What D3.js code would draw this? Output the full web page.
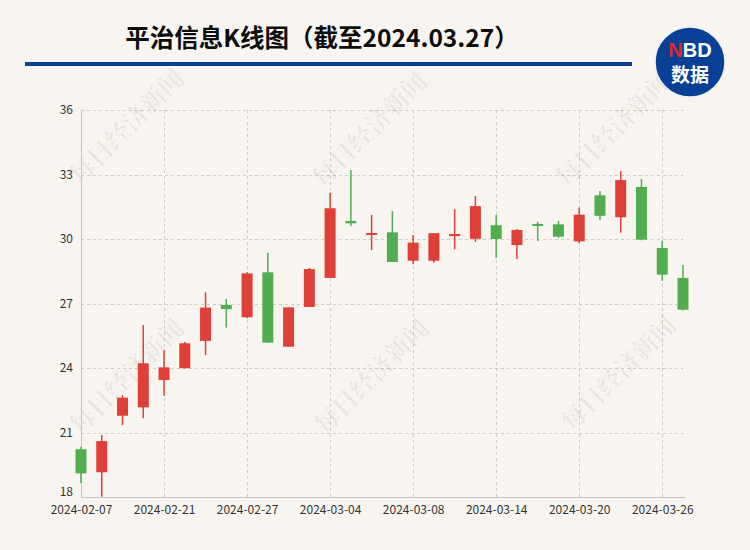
<!DOCTYPE html>
<html>
<head>
<meta charset="utf-8">
<script src="https://cdn.jsdelivr.net/npm/d3@7/dist/d3.min.js"></script>
<style>
  html, body { margin: 0; padding: 0; background: #f8f5f0; }
  svg { display: block; }
</style>
</head>
<body>
<svg id="chart" width="750" height="550"></svg>
<script>
const dates = ["2024-02-07","2024-02-08","2024-02-19","2024-02-20","2024-02-21","2024-02-22","2024-02-23","2024-02-26","2024-02-27","2024-02-28","2024-02-29","2024-03-01","2024-03-04","2024-03-05","2024-03-06","2024-03-07","2024-03-08","2024-03-11","2024-03-12","2024-03-13","2024-03-14","2024-03-15","2024-03-18","2024-03-19","2024-03-20","2024-03-21","2024-03-22","2024-03-25","2024-03-26","2024-03-27"];
const openVals  = [20.22,19.15,21.78,22.17,23.44,23.99,25.26,26.93,26.36,28.45,24.99,26.84,28.19,30.84,30.19,30.31,28.99,28.99,30.15,30.01,30.64,29.72,30.70,30.68,29.89,32.03,31.01,32.42,29.58,28.19];
const closeVals = [19.10,20.60,22.62,24.22,24.03,25.15,26.81,26.74,28.40,25.18,26.82,28.60,31.43,30.73,30.28,28.93,29.83,30.27,30.23,31.53,30.00,30.42,30.62,30.11,31.13,31.08,32.74,29.97,28.34,26.71];
const highVals  = [20.34,20.88,22.74,26.00,24.81,25.21,27.52,27.21,28.45,29.36,26.82,28.65,32.15,33.21,31.12,31.30,30.19,30.27,31.38,32.00,31.12,30.47,30.80,30.85,31.46,32.23,33.16,32.79,29.92,28.79];
const lowVals   = [18.64,18.01,21.35,21.66,22.71,23.99,24.60,25.88,26.31,25.18,24.99,26.84,28.19,30.62,29.49,28.93,28.82,28.90,29.52,29.87,29.13,29.07,29.91,30.06,29.81,30.88,30.29,29.94,28.06,26.67];
const yTicks = [18,21,24,27,30,33,36];
const xTickDates = ["2024-02-07","2024-02-21","2024-02-27","2024-03-04","2024-03-08","2024-03-14","2024-03-20","2024-03-26"];
const titleText = "平治信息K线图（截至2024.03.27）";
const watermarkText = "每日经济新闻";

(function () {
const svg = d3.select("#chart");
const W = 750, H = 550;
const pLeft = 81, pRight = 683, pTop = 110, pBottom = 497;
const RED = "#de3f37", GREEN = "#51ad4f";
const FONT = "'Noto Sans CJK SC', 'Noto Sans', sans-serif";

svg.append("rect").attr("width", W).attr("height", H).attr("fill", "#f8f5f0");

const x = d3.scalePoint().domain(dates).range([pLeft, pRight]);
const y = d3.scaleLinear().domain([18, 36]).range([pBottom, pTop]);

// horizontal grid
svg.append("g").selectAll("line").data(yTicks.filter(t => t !== 18)).join("line")
  .attr("x1", pLeft).attr("x2", pRight)
  .attr("y1", d => Math.round(y(d)) + 0.5).attr("y2", d => Math.round(y(d)) + 0.5)
  .attr("stroke", "#cfcbc6").attr("stroke-dasharray", "3,3").attr("stroke-width", 1);

// vertical grid
svg.append("g").selectAll("line").data(xTickDates.slice(1)).join("line")
  .attr("x1", d => Math.round(x(d)) + 0.5).attr("x2", d => Math.round(x(d)) + 0.5)
  .attr("y1", pTop).attr("y2", pBottom)
  .attr("stroke", "#cfcbc6").attr("stroke-dasharray", "3,3").attr("stroke-width", 1);

// watermarks
const wmCenters = [[125,125],[368,128],[612,128],[125,375],[370,375],[617,372]];
svg.append("g").selectAll("text").data(wmCenters).join("text")
  .attr("transform", d => `translate(${d[0]},${d[1]}) rotate(-45)`)
  .attr("text-anchor", "middle").attr("dominant-baseline", "central")
  .attr("font-family", "'Noto Serif CJK SC', " + FONT)
  .attr("font-weight", "bold").attr("font-size", 25)
  .attr("fill", "#000").attr("fill-opacity", 0.06)
  .text(watermarkText);

// axes
const yAxis = d3.axisLeft(y).tickValues(yTicks).tickSize(0).tickPadding(8);
const gy = svg.append("g").attr("transform", `translate(${pLeft},0)`).call(yAxis);
gy.select(".domain").attr("stroke", "#c8c4bf");
gy.selectAll("text").attr("font-family", FONT).attr("font-size", 12).attr("fill", "#333");
gy.selectAll(".tick").filter(d => d === 18).select("text").attr("dy", "-0.15em");

const xAxis = d3.axisBottom(x).tickValues(xTickDates).tickSize(0).tickPadding(8);
const gx = svg.append("g").attr("transform", `translate(0,${pBottom})`).call(xAxis);
gx.select(".domain").attr("stroke", "#c8c4bf").attr("d", `M${pLeft},0.5H${pRight + 2}`);
gx.selectAll("text").attr("font-family", FONT).attr("font-size", 12).attr("fill", "#333");

// candles
const data = dates.map((d, i) => ({ d, o: openVals[i], c: closeVals[i], h: highVals[i], l: lowVals[i] }));
const bw = 11;
const g = svg.append("g");
g.selectAll("line.wick").data(data).join("line").attr("class", "wick")
  .attr("x1", d => x(d.d)).attr("x2", d => x(d.d))
  .attr("y1", d => y(d.h)).attr("y2", d => y(d.l))
  .attr("stroke", d => d.c >= d.o ? RED : GREEN).attr("stroke-width", 1.5);
g.selectAll("rect.body").data(data).join("rect").attr("class", "body")
  .attr("x", d => x(d.d) - bw / 2)
  .attr("width", bw)
  .attr("y", d => y(Math.max(d.o, d.c)))
  .attr("height", d => Math.max(2, Math.abs(y(d.o) - y(d.c))))
  .attr("fill", d => d.c >= d.o ? RED : GREEN);

// title
svg.append("text").attr("x", 322).attr("y", 47)
  .attr("text-anchor", "middle")
  .attr("font-family", FONT).attr("font-weight", "bold").attr("font-size", 24.5)
  .attr("fill", "#0d0d0d").text(titleText);

// blue rule
svg.append("rect").attr("x", 25).attr("y", 62).attr("width", 607).attr("height", 4).attr("fill", "#0a3f96");

// logo
const logo = svg.append("g").attr("transform", "translate(690,62)");
logo.append("circle").attr("r", 35).attr("fill", "#0a3f96").attr("stroke", "#e9edf5").attr("stroke-width", 1.5);
const nbd = logo.append("text").attr("y", -5).attr("text-anchor", "middle")
  .attr("font-family", "'Liberation Sans', Arial, sans-serif").attr("font-weight", "bold").attr("font-size", 20);
nbd.append("tspan").attr("fill", "#e3262e").text("N");
nbd.append("tspan").attr("fill", "#fff").text("BD");
logo.append("text").attr("y", 20).attr("text-anchor", "middle")
  .attr("font-family", FONT).attr("font-weight", "bold").attr("font-size", 19)
  .attr("fill", "#fff").text("数据");
})();
</script>
</body>
</html>
